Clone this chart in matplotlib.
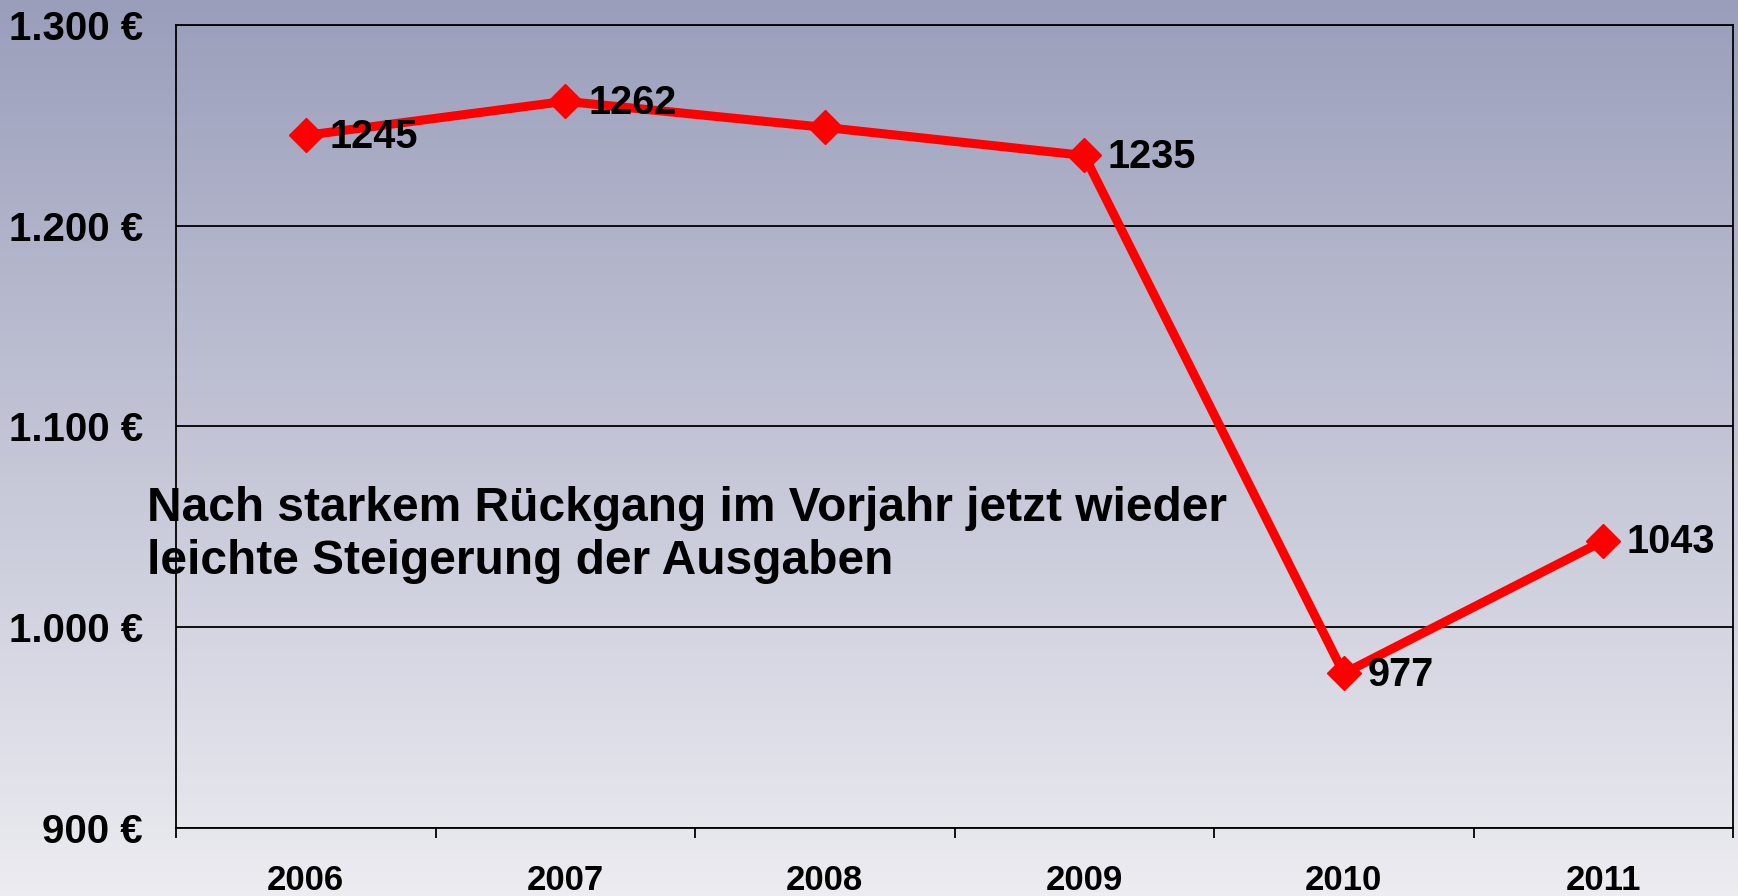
import matplotlib
matplotlib.use('Agg')
import matplotlib.pyplot as plt
import numpy as np

plt.rcParams['font.family'] = ['Liberation Sans', 'DejaVu Sans']
plt.rcParams['font.weight'] = 'bold'

# Data
years = ['2006', '2007', '2008', '2009', '2010', '2011']
spending = [1245, 1262, 1249, 1235, 977, 1043]
shown_labels = ['1245', '1262', '', '1235', '977', '1043']
y_ticks = [900, 1000, 1100, 1200, 1300]
y_ticklabels = ['900 €', '1.000 €', '1.100 €', '1.200 €', '1.300 €']
note_lines = ['Nach starkem Rückgang im Vorjahr jetzt wieder',
              'leichte Steigerung der Ausgaben']

W, H = 1738, 896
fig = plt.figure(figsize=(W / 100, H / 100), dpi=100)

# gradient background over the whole figure
bg = fig.add_axes([0, 0, 1, 1], zorder=0)
top = np.array([155, 158, 187]) / 255
bottom = np.array([236, 236, 241]) / 255
t = np.linspace(0, 1, 256)[:, None]
grad = (top * (1 - t) + bottom * t)[:, None, :]
bg.imshow(grad, aspect='auto', extent=[0, 1, 0, 1])
bg.axis('off')

left, right = 176 / W, 1733 / W
ax_top, ax_bot = 1 - 25 / H, 1 - 828 / H
ax = fig.add_axes([left, ax_bot, right - left, ax_top - ax_bot], zorder=1)
ax.patch.set_alpha(0)

x = np.arange(len(years))
ax.plot(x, spending, color='#ff0000', linewidth=6.5, marker='D',
        markersize=17, markeredgewidth=1, zorder=3, clip_on=False)

for xi, val, lab in zip(x, spending, shown_labels):
    if lab:
        ax.annotate(lab, (xi, val), xytext=(17, -1), textcoords='offset points',
                    ha='left', va='center', fontsize=28.5, fontweight='bold',
                    color='black', zorder=4)

ax.set_xlim(-0.5, len(years) - 0.5)
ax.set_ylim(900, 1300)

ax.set_yticks(y_ticks)
ax.set_yticklabels(y_ticklabels, fontsize=29, fontweight='bold')
ax.tick_params(axis='y', length=0, pad=24)
ax.yaxis.grid(True, color='black', linewidth=1.3)
ax.set_axisbelow(True)

# ticks between the categories, labels at their centres
ax.set_xticks(np.arange(-0.5, len(years), 1.0))
ax.set_xticklabels([])
ax.tick_params(axis='x', which='major', length=7, width=1.3, direction='out')
ax.set_xticks(x, minor=True)
ax.set_xticklabels(years, minor=True, fontsize=25, fontweight='bold')
ax.tick_params(axis='x', which='minor', length=0, pad=26)

for s in ax.spines.values():
    s.set_color('black')
    s.set_linewidth(1.3)

for i, line in enumerate(note_lines):
    fig.text(147 / W, 1 - (521 + 53 * i) / H, line, fontsize=34.5,
             fontweight='bold', ha='left', va='baseline', color='black',
             zorder=5)

fig.savefig('out.png', dpi=100)
